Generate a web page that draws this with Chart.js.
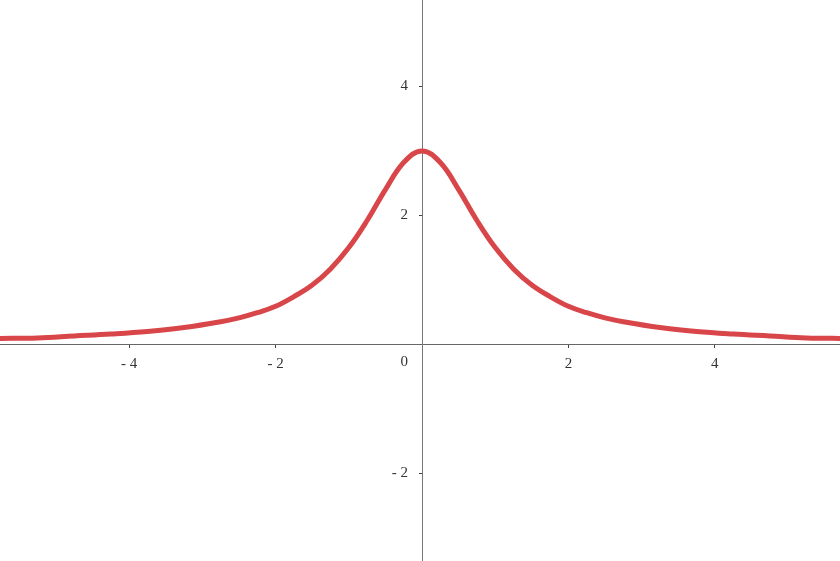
<!DOCTYPE html>
<html>
<head>
<meta charset="utf-8">
<script src="https://cdn.jsdelivr.net/npm/chart.js@4"></script>
<style>
  html, body { margin: 0; padding: 0; background: #fff; }
  #wrap { width: 840px; height: 561px; }
</style>
</head>
<body>
<div id="wrap"><canvas id="plot"></canvas></div>
<script>
// valores (curva em forma de sino, pico 3 em x=0)
const xValues = [-5.8, -5.25, -4.75, -4.25, -3.75, -3.25, -2.75, -2.5, -2.25, -2, -1.75, -1.5, -1.25, -1, -0.75, -0.5, -0.25, 0,
                 0.25, 0.5, 0.75, 1, 1.25, 1.5, 1.75, 2, 2.25, 2.5, 2.75, 3.25, 3.75, 4.25, 4.75, 5.25, 5.8];
const yValues = [0.09, 0.10, 0.13, 0.16, 0.20, 0.26, 0.35, 0.41, 0.49, 0.59, 0.74, 0.92, 1.17, 1.50, 1.92, 2.40, 2.82, 3.00,
                 2.82, 2.40, 1.92, 1.50, 1.17, 0.92, 0.74, 0.59, 0.49, 0.41, 0.35, 0.26, 0.20, 0.16, 0.13, 0.10, 0.09];
const xTicks = [-4, -2, 2, 4];
const yTicks = [-2, 2, 4];

const xRange = [-5.765, 5.71];
const yRange = [-3.36, 5.34];

function fmtTick(v){
  return v < 0 ? '- ' + (-v) : String(v);
}

// rótulos do eixo y e o "0" da origem, à esquerda do eixo vertical
const rotulosPlugin = {
  id: 'rotulos',
  afterDraw(chart){
    const sx = chart.scales.x, sy = chart.scales.y;
    const ctx = chart.ctx;
    const x0 = sx.getPixelForValue(0);
    ctx.save();
    ctx.font = '15px "Liberation Serif"';
    ctx.fillStyle = '#333';
    ctx.textAlign = 'right';
    ctx.textBaseline = 'middle';
    yTicks.forEach(v => ctx.fillText(fmtTick(v), x0 - 14, sy.getPixelForValue(v)));
    ctx.textBaseline = 'top';
    ctx.fillText('0', x0 - 14, sy.getPixelForValue(0) + 10);
    ctx.restore();
  }
};

const tickFont = { family: 'Liberation Serif', size: 15 };

new Chart(document.getElementById('plot'), {
  type: 'line',
  data: {
    datasets: [{
      data: xValues.map((x, i) => ({ x: x, y: yValues[i] })),
      borderColor: '#d9464a',
      borderWidth: 5,
      pointRadius: 0,
      tension: 0.4,
      fill: false
    }]
  },
  options: {
    responsive: true,
    maintainAspectRatio: false,
    animation: false,
    layout: { padding: 0 },
    plugins: { legend: { display: false }, tooltip: { enabled: false } },
    scales: {
      x: {
        type: 'linear',
        position: { y: 0 },
        min: xRange[0], max: xRange[1],
        afterFit: s => { s.height = 0; s.paddingLeft = 0; s.paddingRight = 0; },
        afterBuildTicks: s => { s.ticks = [0].concat(xTicks).map(v => ({ value: v })); },
        border: { display: true, color: '#666', width: 1 },
        grid: { display: true, drawOnChartArea: false, drawTicks: true, tickLength: 3, color: '#444' },
        ticks: {
          color: '#333', font: tickFont, padding: 8, maxRotation: 0,
          callback: v => v === 0 ? '' : fmtTick(v)
        }
      },
      y: {
        type: 'linear',
        position: { x: 0 },
        min: yRange[0], max: yRange[1],
        afterFit: s => { s.width = 0; s.paddingTop = 0; s.paddingBottom = 0; },
        afterBuildTicks: s => { s.ticks = [0].concat(yTicks).map(v => ({ value: v })); },
        border: { display: true, color: '#777', width: 1 },
        grid: { display: true, drawOnChartArea: false, drawTicks: true, tickLength: 3, color: '#444' },
        ticks: { display: false }
      }
    }
  },
  plugins: [rotulosPlugin]
});
</script>
</body>
</html>
